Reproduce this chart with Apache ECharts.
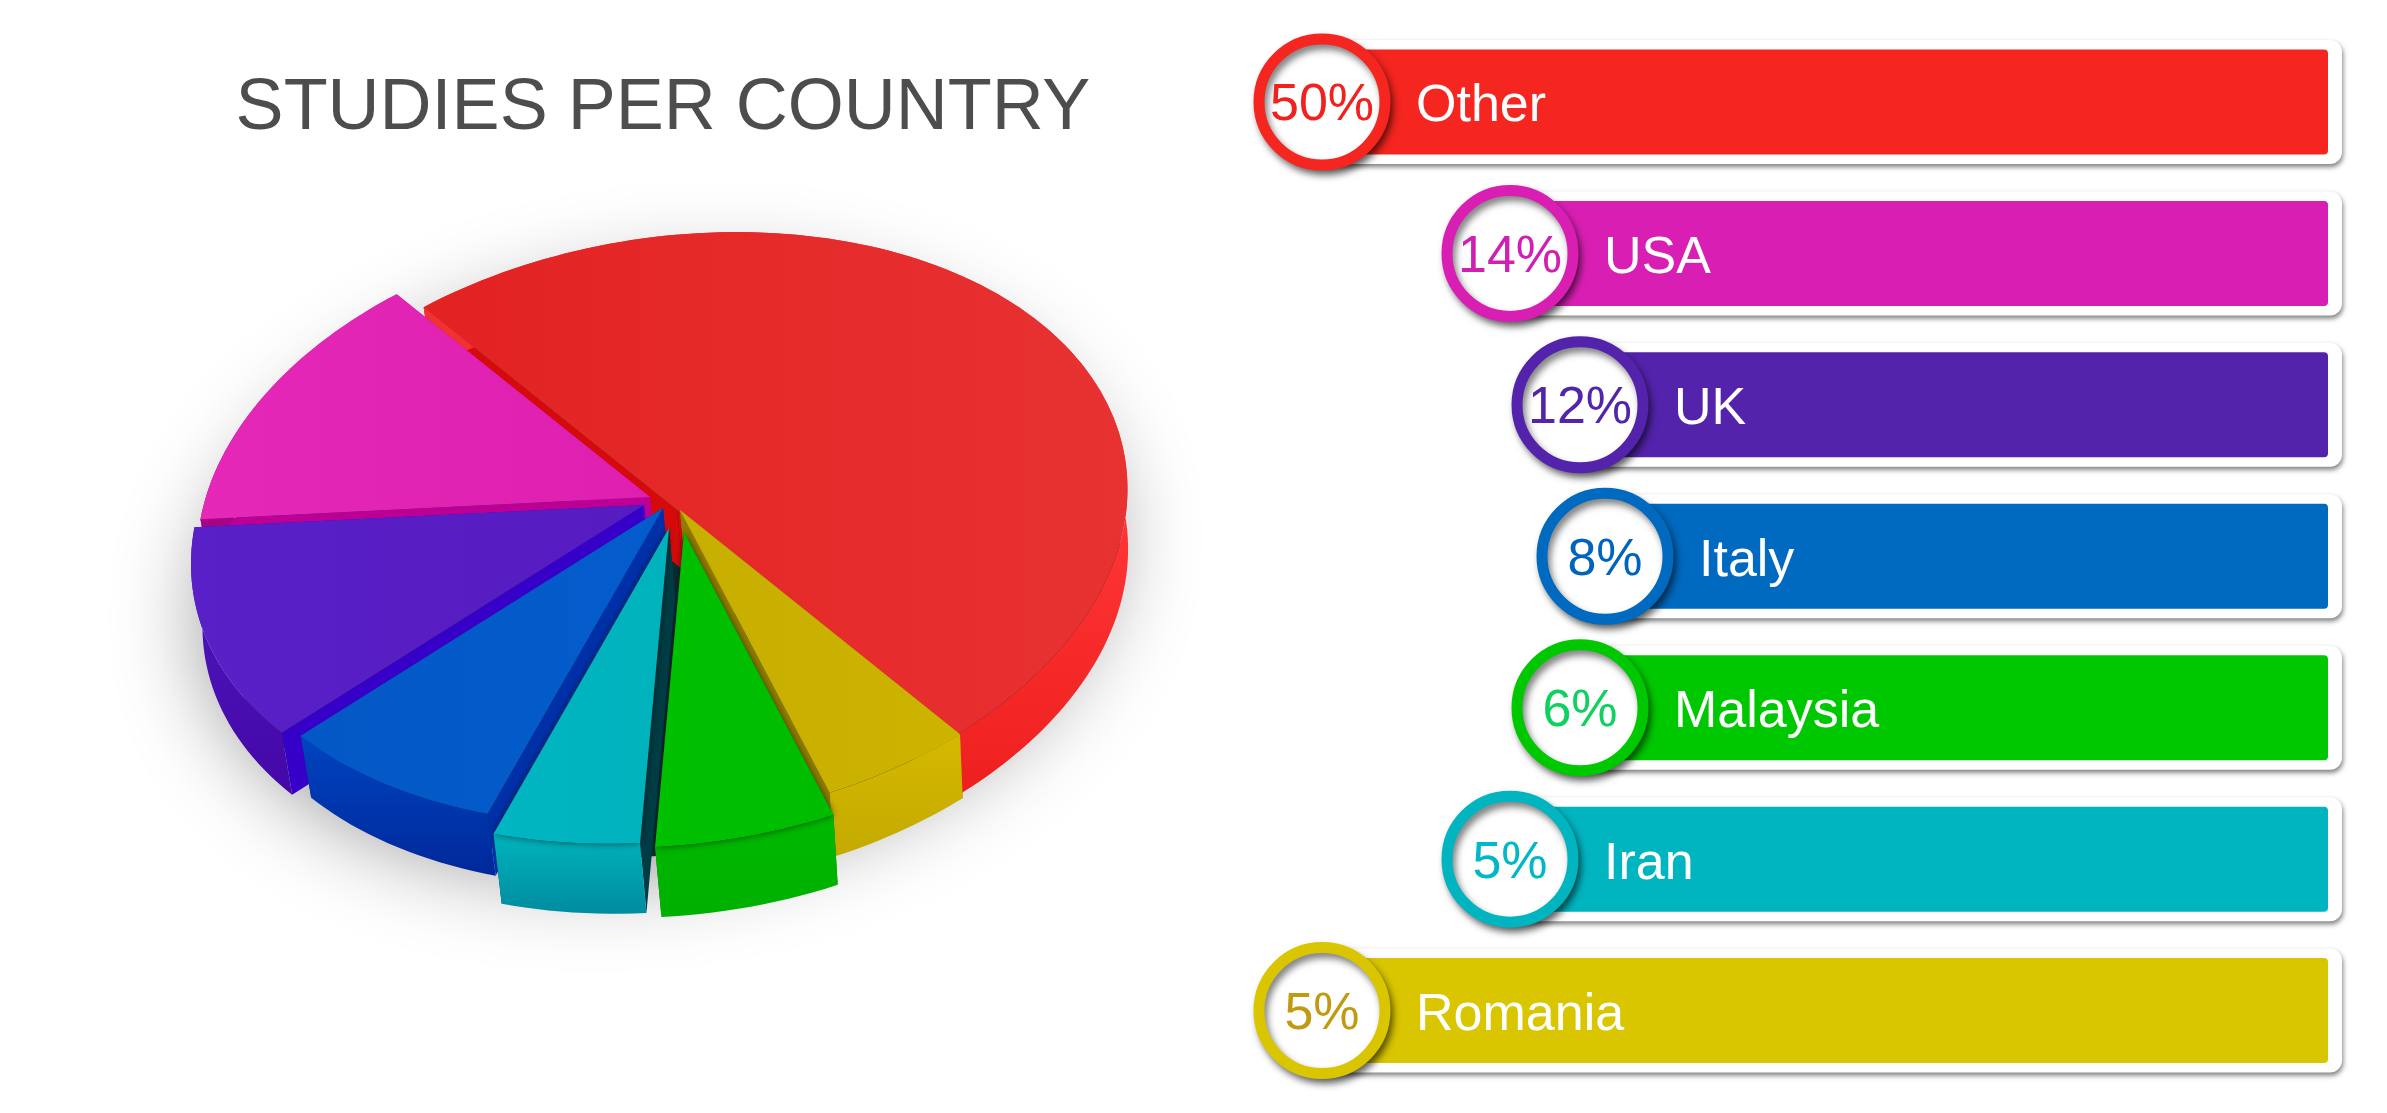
<!DOCTYPE html>
<html><head><meta charset="utf-8">
<style>html,body{margin:0;padding:0;background:#fff}#c{width:2387px;height:1113px}</style>
<script src="https://cdn.jsdelivr.net/npm/echarts@6/dist/echarts.min.js"></script>
</head><body><div id="c"></div>
<script>
// ---- data ----
const categories = ['Other','USA','UK','Italy','Malaysia','Iran','Romania'];
const shares = [50,14,12,8,6,5,5];
const pieOrder = ['Other','USA','UK','Italy','Iran','Malaysia','Romania'];
const titleText = 'STUDIES PER COUNTRY';

// ---- layout and style ----
const FONT = '"Liberation Sans", Arial, sans-serif';
const barColor = {Other:'#f5251f',USA:'#d91fb3',UK:'#5323ab',Italy:'#0069c0',Malaysia:'#00c800',Iran:'#00b5c0',Romania:'#d9c600'};
const badgeText = {Other:'#f2201f',USA:'#d020b4',UK:'#5225ad',Italy:'#0064bd',Malaysia:'#10d060',Iran:'#00b8c8',Romania:'#c09a10'};
const indent = {Other:0,USA:188,UK:258,Italy:283,Malaysia:258,Iran:188,Romania:0};
const BAR_END = 1006, RIM_END = 1020;
const top3d = {Other:['#e32222','#e83232'],USA:['#e528b8','#de1fb0'],UK:['#5a20c8','#561cc0'],Italy:['#0458c6','#045ccc'],Iran:['#00b6c2','#00b2bc'],Malaysia:['#00c000','#00bc00'],Romania:['#c8ae00','#ccb400']};
const wall3d = {Other:['#e83030','#ff3535','#ee1f1f'],USA:['#c0109a','#a00080'],UK:['#5218c0','#4408a8'],Italy:['#0044c0','#00289a'],Iran:['#00b4bc','#008ca0'],Malaysia:['#00b800','#00b000'],Romania:['#d4b800','#c4aa00']};
const cut3d = {Other:'#d60a0a',USA:'#bc0096',UK:'#3600c8',Italy:'#0030a8',Iran:'#003c44',Malaysia:'#006800',Romania:'#907c00'};
const offset3d = {Other:[0,0],USA:[-27,-13],UK:[-33,-5],Italy:[-14,-2],Iran:[-8,18],Malaysia:[7,22],Romania:[3,0]};
const depth3d = {Other:60,USA:62,UK:62,Italy:62,Iran:70,Malaysia:70,Romania:64};
const paint3d = {Other:0,USA:1,UK:2,Italy:3,Romania:4,Malaysia:5,Iran:6};
const CX=677, CY=510, AX=-266, AY=-213, BX=-364, BY=205, G=0.05, H=-0.04, ROT0=-180;

const shareOf = n => shares[categories.indexOf(n)];
const pieValues = pieOrder.map(shareOf);
const pieTotal = pieValues.reduce((a,b)=>a+b,0);
const startAngle = []; pieValues.reduce((acc,v,i)=>{startAngle[i]=acc;return acc+v/pieTotal*360;},ROT0);

function proj(deg, ox, oy){
  const t=deg*Math.PI/180, c=Math.cos(t), s=Math.sin(t), d=1+G*c+H*s;
  return [CX+ox+(AX*c+BX*s)/d, CY+oy+(AY*c+BY*s)/d];
}
const sink = (p,ox,dep) => [p[0]+6-0.012*(p[0]-CX-ox), p[1]+dep];
function grad(stops){return new echarts.graphic.LinearGradient(0,0,0,1,stops.map((color,k)=>({offset:k/(stops.length-1),color})));}
function poly(points,fill,z2,extra){return {type:'polygon',z2,silent:true,shape:{points},style:Object.assign({fill},extra||{})};}

function renderSlice(params, api){
  const i=params.dataIndex, name=pieOrder[i], val=api.value(0);
  const a0=startAngle[i], a1=a0+val/pieTotal*360;
  const [ox,oy]=offset3d[name], dep=depth3d[name], base=(paint3d[name]+1)*10;
  const arc=[]; const n=Math.max(4,Math.round((a1-a0)/1.5));
  for(let k=0;k<=n;k++) arc.push(proj(a0+(a1-a0)*k/n,ox,oy));
  const apex=[CX+ox,CY+oy], low=arc.map(p=>sink(p,ox,dep)), apexLow=sink(apex,ox,dep);
  const kids=[];
  if(i===0){
    const ring=[]; for(let d=0;d<360;d+=3) ring.push(proj(d,-6,32));
    kids.push(poly(ring,'#0a2c30',1,{shadowBlur:90,shadowColor:'rgba(0,0,0,0.42)',shadowOffsetX:-14,shadowOffsetY:16}));
  }
  kids.push(poly([apex,arc[0],low[0],apexLow],cut3d[name],base+1));
  kids.push(poly([apex,arc[n],low[n],apexLow],cut3d[name],base+2));
  kids.push(poly(arc.concat(low.slice().reverse()),grad(wall3d[name]),base+3));
  const soft=(name==='Iran'||name==='Malaysia')?{shadowBlur:7,shadowColor:'rgba(0,0,0,0.55)'}:{};
  kids.push(poly([apex].concat(arc),new echarts.graphic.LinearGradient(0,0,1,0,[{offset:0,color:top3d[name][0]},{offset:1,color:top3d[name][1]}]),base+4,soft));
  return {type:'group',children:kids};
}

const chart = echarts.init(document.getElementById('c'),null,{renderer:'canvas'});
chart.setOption({
  animation:false,
  backgroundColor:'#ffffff',
  title:{text:titleText,left:658,top:68,textAlign:'center',textStyle:{fontFamily:FONT,fontSize:72,fontWeight:'normal',color:'#4d4d4d'}},
  grid:{left:1322,top:26.3,width:RIM_END,height:1060,containLabel:false},
  xAxis:{type:'value',min:0,max:RIM_END,show:false},
  yAxis:[
    {type:'category',data:categories,inverse:true,show:false},
    {type:'category',data:categories,inverse:true,show:false}
  ],
  series:[
    {type:'custom',coordinateSystem:'none',renderItem:renderSlice,data:pieValues.map(v=>[v]),silent:true,z:1},
    {type:'bar',yAxisIndex:0,stack:'rim',barWidth:124,silent:true,z:2,itemStyle:{color:'transparent'},
      data:categories.map(c=>indent[c])},
    {type:'bar',yAxisIndex:0,stack:'rim',barWidth:124,silent:true,z:2,
      itemStyle:{color:'#ffffff',borderRadius:12,shadowBlur:5,shadowColor:'rgba(0,0,0,0.5)',shadowOffsetX:1,shadowOffsetY:3},
      data:categories.map(c=>RIM_END-indent[c])},
    {type:'bar',yAxisIndex:1,stack:'fill',barWidth:105,silent:true,z:3,itemStyle:{color:'transparent'},
      data:categories.map(c=>indent[c])},
    {type:'bar',yAxisIndex:1,stack:'fill',barWidth:105,silent:true,z:3,
      label:{show:true,position:'insideLeft',distance:94,offset:[0,5],formatter:'{b}',color:'#ffffff',fontFamily:FONT,fontSize:52},
      data:categories.map(c=>({value:BAR_END-indent[c],itemStyle:{color:barColor[c],borderRadius:[0,4,4,0]}}))},
    {type:'scatter',yAxisIndex:1,symbolSize:126,silent:true,z:4,
      data:categories.map((c,i)=>({value:[indent[c],c,shares[i]],
        itemStyle:{opacity:1,color:'#ffffff',borderColor:barColor[c],borderWidth:11,shadowBlur:7,shadowColor:'rgba(0,0,0,0.5)',shadowOffsetX:3,shadowOffsetY:5},
        label:{show:true,position:'inside',offset:[0,4],formatter:shares[i]+'%',color:badgeText[c],fontFamily:FONT,fontSize:52}}))}
  ]
});
</script></body></html>
